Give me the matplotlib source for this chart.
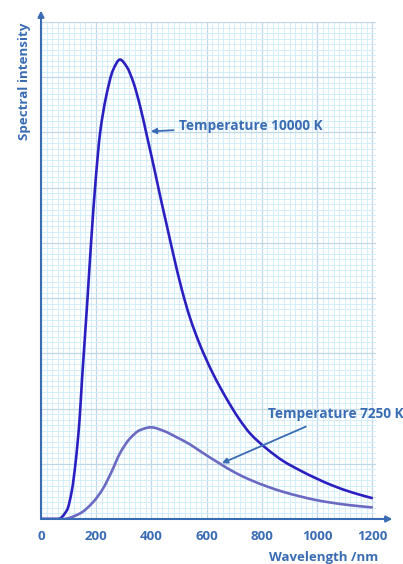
import matplotlib
matplotlib.use("Agg")
import matplotlib.pyplot as plt
from matplotlib.path import Path
from matplotlib.patches import PathPatch
import numpy as np

# wavelength (nm) and spectral intensity (grid units)
wl_10000 = [0, 62, 94, 112, 125, 139.5, 148.5, 155, 168, 182, 198, 214, 235.5, 261,
            286, 310.5, 334.4, 358.7, 383, 413, 431, 455.4, 479.3, 509.7, 539.8,
            576, 624, 673, 715, 757, 818, 877, 938, 999, 1059, 1127, 1198]
int_10000 = [0, 0, 0.16, 0.52, 1.01, 1.79, 2.52, 3.0, 3.96, 5.05, 6.14, 6.99, 7.64,
             8.13, 8.32, 8.19, 7.91, 7.48, 6.95, 6.28, 5.86, 5.32, 4.79, 4.16, 3.64,
             3.15, 2.62, 2.17, 1.83, 1.55, 1.27, 1.05, 0.88, 0.73, 0.60, 0.48, 0.38]

wl_7250 = [0, 81, 141, 189.5, 225.7, 256, 286, 322.4, 358.7, 398.5, 442, 491.6,
           539.8, 576, 648.5, 703, 757, 818, 878, 938, 999, 1059, 1119, 1198]
int_7250 = [0, 0, 0.10, 0.31, 0.56, 0.86, 1.19, 1.46, 1.61, 1.66, 1.60, 1.48, 1.35,
            1.23, 1.00, 0.84, 0.71, 0.59, 0.49, 0.41, 0.34, 0.29, 0.25, 0.21]

xticks = [0, 200, 400, 600, 800, 1000, 1200]

blue = '#3a6cb4'
plt.rcParams['font.family'] = ['Open Sans', 'DejaVu Sans']


def smooth_path(x, y):
    # bezier path through the read points, monotone (pchip-style) tangents
    x = np.asarray(x, float)
    y = np.asarray(y, float)
    h = np.diff(x)
    d = np.diff(y) / h
    m = np.zeros_like(x)
    m[0], m[-1] = d[0], d[-1]
    for k in range(1, len(x) - 1):
        if d[k - 1] * d[k] <= 0:
            m[k] = 0
        else:
            w1 = 2 * h[k] + h[k - 1]
            w2 = h[k] + 2 * h[k - 1]
            m[k] = (w1 + w2) / (w1 / d[k - 1] + w2 / d[k])
    verts = [(x[0], y[0])]
    codes = [Path.MOVETO]
    for k in range(len(x) - 1):
        verts += [(x[k] + h[k] / 3, y[k] + m[k] * h[k] / 3),
                  (x[k + 1] - h[k] / 3, y[k + 1] - m[k + 1] * h[k] / 3),
                  (x[k + 1], y[k + 1])]
        codes += [Path.CURVE4] * 3
    return Path(verts, codes)


fig = plt.figure(figsize=(4.03, 5.64), dpi=100)
ax = fig.add_axes([0.1017, 0.0798, 0.8305, 0.8812])
ax.set_xlim(0, 1212)
ax.set_ylim(0, 9)

# graph paper
ax.set_xticks(np.arange(0, 1213, 20), minor=True)
ax.set_yticks(np.arange(0, 9.01, 0.1), minor=True)
ax.set_xticks(xticks)
ax.set_yticks(np.arange(0, 10, 1))
ax.grid(which='minor', color='#d3eefa', lw=0.7)
ax.grid(which='major', color='#c0d7e7', lw=0.9)
ax.set_axisbelow(True)
ax.tick_params(which='both', length=0)
ax.set_yticklabels([])
ax.set_xticklabels([str(t) for t in xticks], color=blue, fontweight='bold', fontsize=9.5)
ax.tick_params(axis='x', pad=8)
for s in ax.spines.values():
    s.set_visible(False)

ax.add_patch(PathPatch(smooth_path(wl_10000, int_10000), fill=False, ec='#2a20c0',
                       lw=1.9, capstyle='round', zorder=3))
ax.add_patch(PathPatch(smooth_path(wl_7250, int_7250), fill=False, ec='#6a6ac2',
                       lw=1.9, capstyle='round', zorder=3))

# axes with arrows
ax.annotate('', xy=(0, 1.023), xytext=(0, 0), xycoords='axes fraction',
            arrowprops=dict(arrowstyle='-|>', color=blue, lw=1.5, mutation_scale=9,
                            shrinkA=0, shrinkB=0), annotation_clip=False, zorder=4)
ax.annotate('', xy=(1.05, 0), xytext=(0, 0), xycoords='axes fraction',
            arrowprops=dict(arrowstyle='-|>', color=blue, lw=1.5, mutation_scale=9,
                            shrinkA=0, shrinkB=0), annotation_clip=False, zorder=4)

fig.text(25 / 403, 1 - 23 / 564, 'Spectral intensity', rotation=90, ha='center', va='top',
         color=blue, fontweight='bold', fontsize=9.6)
fig.text(378 / 403, 1 - 558 / 564, 'Wavelength /nm', ha='right', va='center',
         color=blue, fontweight='bold', fontsize=9.5)

# curve labels
ax.annotate('Temperature 10000 K', xy=(398, 7.02), xytext=(500, 7.11),
            color=blue, fontweight='bold', fontsize=9.8, va='center', ha='left',
            arrowprops=dict(arrowstyle='-|>', color=blue, lw=1.3, mutation_scale=8,
                            shrinkA=2, shrinkB=0))
ax.annotate('Temperature 7250 K', xy=(655, 1.01), xytext=(822, 1.91),
            color=blue, fontweight='bold', fontsize=9.8, va='center', ha='left',
            arrowprops=dict(arrowstyle='-|>', color=blue, lw=1.3, mutation_scale=8,
                            shrinkA=6, shrinkB=0), annotation_clip=False)

fig.savefig('out.png', dpi=100)
